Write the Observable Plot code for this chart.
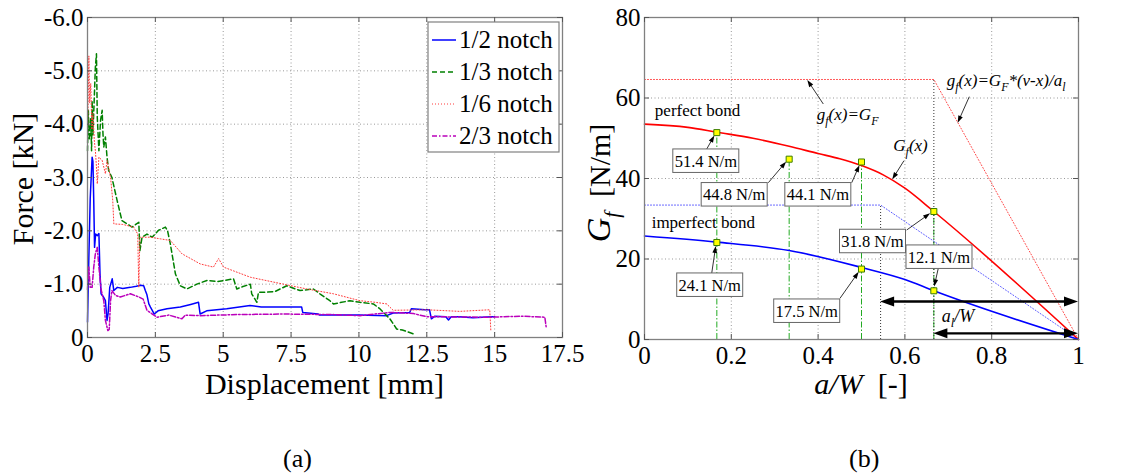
<!DOCTYPE html>
<html><head><meta charset="utf-8">
<script src="https://cdn.jsdelivr.net/npm/d3@7"></script>
<script src="https://cdn.jsdelivr.net/npm/@observablehq/plot@0.6"></script>
<style>
body{margin:0;background:#fff;}
#wrap{position:relative;width:1136px;height:474px;background:#fff;font-family:Liberation Serif,Tinos,Times New Roman,DejaVu Serif,serif;overflow:hidden;}
#a,#b{position:absolute;top:0;}
#a{left:0;width:570px;} #b{left:570px;width:566px;}
.cap{position:absolute;top:446px;font-size:26px;line-height:26px;color:#000;}
svg text{font-family:Liberation Serif,Tinos,Times New Roman,DejaVu Serif,serif;}
</style></head><body>
<div id="wrap"><div id="a"></div><div id="b"></div>
<div class="cap" style="left:283px">(a)</div><div class="cap" style="left:849px">(b)</div></div>
<script>
// ---------------- data: panel (a) ----------------
const seriesNames = ["1/2 notch", "1/3 notch", "1/6 notch", "2/3 notch"];
const notch12 = [[0.0,-0.29],[0.05,-1.5],[0.1,-2.6],[0.17,-3.38],[0.2,-3.3],[0.23,-2.57],[0.26,-1.69],[0.3,-1.94],[0.36,-1.91],[0.42,-1.95],[0.46,-1.2],[0.5,-0.82],[0.6,-0.75],[0.66,-0.69],[0.72,-0.32],[0.76,-0.45],[0.82,-0.94],[0.91,-1.1],[0.97,-0.88],[1.1,-0.94],[1.3,-0.92],[1.58,-0.94],[1.8,-0.96],[1.95,-0.98],[2.07,-0.97],[2.13,-0.88],[2.19,-0.8],[2.26,-0.63],[2.32,-0.57],[2.46,-0.44],[2.6,-0.5],[2.93,-0.54],[3.42,-0.57],[3.8,-0.62],[4.09,-0.66],[4.15,-0.44],[4.39,-0.5],[5.13,-0.54],[5.99,-0.6],[6.4,-0.57],[7.22,-0.57],[7.89,-0.57],[7.93,-0.47],[8.5,-0.44],[8.55,-0.42],[10.0,-0.42],[11.02,-0.41],[11.26,-0.46],[11.87,-0.47],[11.93,-0.54],[12.43,-0.52],[12.6,-0.52],[12.67,-0.35],[12.8,-0.4],[13.2,-0.39],[13.3,-0.33],[13.4,-0.39],[13.7,-0.39],[14.2,-0.37],[14.9,-0.39],[15.0,-0.39]];
const notch13 = [[0.0,-3.5],[0.03,-4.26],[0.07,-3.7],[0.12,-4.1],[0.15,-3.5],[0.17,-4.44],[0.2,-3.8],[0.25,-4.5],[0.29,-5.07],[0.33,-5.32],[0.36,-4.13],[0.42,-3.5],[0.48,-4.07],[0.54,-4.26],[0.57,-3.82],[0.6,-3.57],[0.66,-3.76],[0.72,-3.38],[0.78,-3.13],[0.9,-3.0],[1.09,-2.57],[1.27,-2.19],[1.46,-2.13],[1.64,-2.07],[1.89,-2.16],[1.93,-1.63],[2.01,-1.88],[2.19,-1.94],[2.38,-1.88],[2.62,-2.01],[2.87,-2.07],[2.95,-2.0],[3.05,-1.76],[3.24,-1.19],[3.42,-0.97],[3.66,-0.91],[4.03,-1.0],[4.4,-1.07],[4.8,-1.05],[5.38,-1.1],[5.5,-0.91],[5.7,-0.95],[6.0,-1.0],[6.05,-0.82],[6.24,-0.66],[6.3,-0.85],[6.6,-0.85],[6.9,-0.86],[7.34,-0.97],[7.83,-0.88],[8.32,-0.91],[8.56,-0.82],[8.93,-0.69],[9.06,-0.63],[9.67,-0.69],[10.04,-0.66],[10.53,-0.63],[10.77,-0.54],[11.14,-0.35],[11.39,-0.16],[11.6,-0.14],[12.0,-0.07]];
const notch16 = [[0.0,-3.8],[0.03,-4.6],[0.05,-5.28],[0.08,-4.4],[0.12,-4.76],[0.16,-3.9],[0.2,-4.2],[0.25,-3.7],[0.29,-3.5],[0.33,-3.2],[0.36,-2.88],[0.42,-3.38],[0.54,-3.32],[0.66,-3.07],[0.72,-3.32],[0.85,-3.0],[0.93,-2.57],[0.97,-2.13],[1.3,-2.12],[1.7,-2.07],[1.85,-1.94],[1.89,-0.94],[1.93,-1.88],[2.32,-1.88],[2.68,-1.85],[3.05,-1.82],[3.48,-1.57],[4.15,-1.38],[4.64,-1.32],[4.83,-1.48],[5.01,-1.32],[6.0,-1.13],[7.22,-1.0],[8.08,-0.91],[9.06,-0.82],[10.04,-0.69],[10.6,-0.66],[11.02,-0.63],[11.26,-0.51],[12.49,-0.52],[13.71,-0.49],[14.82,-0.52],[14.86,-0.13]];
const notch23 = [[0.0,-0.9],[0.05,-1.32],[0.1,-0.94],[0.17,-0.94],[0.23,-1.32],[0.29,-1.57],[0.36,-1.69],[0.42,-1.32],[0.5,-0.9],[0.6,-0.69],[0.66,-0.32],[0.75,-0.13],[0.8,-0.15],[0.85,-0.69],[0.9,-0.88],[1.03,-0.79],[1.21,-0.76],[1.58,-0.82],[1.89,-0.76],[2.05,-0.72],[2.19,-0.51],[2.56,-0.38],[3.0,-0.42],[3.48,-0.35],[3.6,-0.42],[4.15,-0.41],[5.5,-0.43],[7.22,-0.44],[9.0,-0.43],[10.04,-0.41],[11.14,-0.47],[12.0,-0.45],[12.49,-0.39],[14.8,-0.38],[16.0,-0.4],[16.85,-0.38],[16.9,-0.19]];
const xTicksA = [0, 2.5, 5, 7.5, 10, 12.5, 15, 17.5];
const yTicksA = [0, -1, -2, -3, -4, -5, -6];

// ---------------- data: panel (b) ----------------
const aWPerfect = [0, 0.1, 0.1667, 0.25, 0.3333, 0.4, 0.45, 0.5, 0.55, 0.6, 0.6667, 1];
const gfPerfect = [53.5, 52.7, 51.5, 50.0, 48.0, 46.2, 44.9, 43.2, 40.9, 37.6, 31.8, 0];
const aWImperfect = [0, 0.1667, 0.3333, 0.5, 0.6, 0.6667, 1];
const gfImperfect = [25.7, 24.2, 22.1, 17.9, 14.9, 12.1, 0];
const cohPerfect = [[0, 64.6], [0.6667, 64.6], [1, 0]];
const cohImperfect = [[0, 33.4], [0.544, 33.4], [1, 0]];
const measX = [1/6, 1/3, 1/2, 2/3, 1/6, 1/2, 2/3];
const measG = [51.4, 44.8, 44.1, 31.8, 24.1, 17.5, 12.1];
const measLabels = ["51.4 N/m", "44.8 N/m", "44.1 N/m", "31.8 N/m", "24.1 N/m", "17.5 N/m", "12.1 N/m"];
const xTicksB = [0, 0.2, 0.4, 0.6, 0.8, 1];
const yTicksB = [0, 20, 40, 60, 80];

// ---------------- styles ----------------
const serif = 'Liberation Serif, Tinos, Times New Roman, DejaVu Serif, serif';
const styleA = {
  "1/2 notch": {stroke: "#0000ff", width: 1.5, dash: null},
  "1/3 notch": {stroke: "#008000", width: 1.5, dash: "5,3"},
  "1/6 notch": {stroke: "#ff3a3a", width: 1, dash: "1,2"},
  "2/3 notch": {stroke: "#bb00bb", width: 1.5, dash: "5,2,1.5,2"}
};
const seriesData = {"1/2 notch": notch12, "1/3 notch": notch13, "1/6 notch": notch16, "2/3 notch": notch23};
const gridStyle = {stroke: "#999", strokeOpacity: 1, strokeWidth: 1, strokeDasharray: "1,2.5"};
const baseStyle = {fontFamily: serif, fontSize: "25px", color: "#000", background: "transparent", overflow: "visible"};

// ---------- helpers ----------
function arrow(g, x1, y1, x2, y2, o = {}) {
  const {w = 0.8, hl = 7, hw = 2.6, color = "#000", both = false} = o;
  const dx = x2 - x1, dy = y2 - y1, L = Math.hypot(dx, dy), ux = dx / L, uy = dy / L;
  const head = (px, py, vx, vy) => {
    const bx = px - vx * hl, by = py - vy * hl;
    g.append("path").attr("d", `M${px},${py}L${bx - vy * hw},${by + vx * hw}L${bx + vy * hw},${by - vx * hw}Z`).attr("fill", color);
  };
  g.append("line")
    .attr("x1", both ? x1 + ux * hl * 0.8 : x1).attr("y1", both ? y1 + uy * hl * 0.8 : y1)
    .attr("x2", x2 - ux * hl * 0.8).attr("y2", y2 - uy * hl * 0.8)
    .attr("stroke", color).attr("stroke-width", w);
  head(x2, y2, ux, uy);
  if (both) head(x1, y1, -ux, -uy);
}
function rich(g, x, y, parts, size, anchor = "start", transform = null) {
  const t = g.append("text").attr("x", x).attr("y", y).attr("font-size", size)
    .attr("text-anchor", anchor).attr("fill", "#000");
  if (transform) t.attr("transform", transform);
  let shift = 0;
  for (const p of parts) {
    const s = t.append("tspan").text(p.t);
    if (p.i) s.attr("font-style", "italic");
    if (p.size) s.attr("font-size", p.size);
    const want = p.sub ? size * 0.3 : 0;
    if (want !== shift) { s.attr("dy", want - shift); shift = want; }
    if (p.sub) s.attr("font-size", size * 0.7);
  }
  return t;
}

// ---------------- panel (a) ----------------
const WA = 570, H = 410, mA = {l: 87, r: 8, t: 17, b: 73};
const fhA = H - mA.t - mA.b, fwA = WA - mA.l - mA.r;
const plotA = Plot.plot({
  width: WA, height: H, marginLeft: mA.l, marginRight: mA.r, marginTop: mA.t, marginBottom: mA.b,
  style: baseStyle,
  x: {domain: [0, 17.5]}, y: {domain: [0, -6]},
  marks: [
    Plot.gridX(xTicksA, gridStyle),
    Plot.gridY(yTicksA, gridStyle),
    ...seriesNames.map(n => Plot.line(seriesData[n], {x: d => d[0], y: d => d[1], stroke: styleA[n].stroke, strokeWidth: styleA[n].width, strokeDasharray: styleA[n].dash})),
    Plot.frame({stroke: "#808080", strokeWidth: 1.3}),
    Plot.ruleX(xTicksA, {x: d => d, insetTop: fhA - 5, stroke: "#555"}),
    Plot.ruleX(xTicksA, {x: d => d, insetBottom: fhA - 5, stroke: "#555"}),
    Plot.ruleY(yTicksA, {y: d => d, insetRight: fwA - 5, stroke: "#555"}),
    Plot.ruleY(yTicksA, {y: d => d, insetLeft: fwA - 5, stroke: "#555"}),
    Plot.axisX(xTicksA, {tickSize: 0, tickPadding: 7, label: null, tickFormat: d => String(d)}),
    Plot.axisY(yTicksA, {tickSize: 0, tickPadding: 4, label: null, tickFormat: d => d === 0 ? "0" : d.toFixed(1)}),
    (index, scales, values, dim) => {
      const g = d3.create("svg:g").attr("text-anchor", "start");
      // legend
      g.append("rect").attr("x", 428).attr("y", 22).attr("width", 131).attr("height", 130)
        .attr("fill", "#fff").attr("stroke", "#808080").attr("stroke-width", 1.2);
      seriesNames.forEach((n, k) => {
        const yb = 48 + 32 * k, st = styleA[n];
        g.append("line").attr("x1", 432).attr("x2", 456).attr("y1", yb - 8).attr("y2", yb - 8)
          .attr("stroke", st.stroke).attr("stroke-width", st.width).attr("stroke-dasharray", st.dash);
        g.append("text").attr("x", 459).attr("y", yb).attr("font-size", 25).attr("fill", "#000").text(n);
      });
      // axis titles
      const cx = (dim.marginLeft + dim.width - dim.marginRight) / 2;
      const cy = (dim.marginTop + dim.height - dim.marginBottom) / 2;
      g.append("text").attr("x", cx).attr("y", 394).attr("text-anchor", "middle").attr("font-size", 30).attr("fill", "#000").text("Displacement [mm]");
      g.append("text").attr("transform", `translate(33,${cy + 2}) rotate(-90)`).attr("text-anchor", "middle").attr("font-size", 30).attr("fill", "#000").text("Force [kN]");
      return g.node();
    }
  ]
});
document.getElementById("a").append(plotA);

// ---------------- panel (b) ----------------
const WB = 566, mB = {l: 74, r: 58, t: 17, b: 71};
const fhB = H - mB.t - mB.b, fwB = WB - mB.l - mB.r;
const perfectRows = aWPerfect.map((x, i) => ({x, g: gfPerfect[i]}));
const imperfectRows = aWImperfect.map((x, i) => ({x, g: gfImperfect[i]}));
const measRows = measX.map((x, i) => ({x, g: measG[i], label: measLabels[i]}));
const stems = Array.from(d3.rollup(measRows, v => d3.max(v, d => d.g), d => d.x), ([x, top]) => ({x, top}));
const kinks = [{x: cohImperfect[1][0], top: cohImperfect[1][1]}, {x: cohPerfect[1][0], top: cohPerfect[1][1]}];

// annotation layout (data units of panel b), same order as measLabels
const boxAt = [[0.1424, 44.3], [0.2078, 35.95], [0.4005, 35.95], [0.5265, 24.35], [0.1514, 13.49], [0.3749, 7.03], [0.6797, 20.45]];
const arrowFrom = [[0.1445, 47.2], [0.2864, 38.83], [0.4786, 38.83], [0.6053, 27.08], [0.156, 16.32], [0.4516, 10.11], [0.6781, 17.57]];

const plotB = Plot.plot({
  width: WB, height: H, marginLeft: mB.l, marginRight: mB.r, marginTop: mB.t, marginBottom: mB.b,
  style: baseStyle,
  x: {domain: [0, 1]}, y: {domain: [0, 80]},
  marks: [
    Plot.gridX(xTicksB, gridStyle),
    Plot.gridY(yTicksB, gridStyle),
    Plot.ruleX(stems, {x: "x", y1: 0, y2: "top", stroke: "#22aa22", strokeWidth: 1, strokeDasharray: "6,2,1.5,2"}),
    Plot.ruleX(kinks, {x: "x", y1: 0, y2: "top", stroke: "#333", strokeWidth: 1, strokeDasharray: "1,2"}),
    Plot.line(cohPerfect, {x: d => d[0], y: d => d[1], stroke: "#ff4a4a", strokeWidth: 1, strokeDasharray: "1,2"}),
    Plot.line(cohImperfect, {x: d => d[0], y: d => d[1], stroke: "#5a5aff", strokeWidth: 1, strokeDasharray: "1,2"}),
    Plot.line(perfectRows, {x: "x", y: "g", stroke: "#ff0000", strokeWidth: 1.6, curve: "monotone-x"}),
    Plot.line(imperfectRows, {x: "x", y: "g", stroke: "#0000ff", strokeWidth: 1.6, curve: "monotone-x"}),
    Plot.frame({stroke: "#808080", strokeWidth: 1.3}),
    Plot.ruleX(xTicksB, {x: d => d, insetTop: fhB - 5, stroke: "#555"}),
    Plot.ruleX(xTicksB, {x: d => d, insetBottom: fhB - 5, stroke: "#555"}),
    Plot.ruleY(yTicksB, {y: d => d, insetRight: fwB - 5, stroke: "#555"}),
    Plot.ruleY(yTicksB, {y: d => d, insetLeft: fwB - 5, stroke: "#555"}),
    Plot.axisX(xTicksB, {tickSize: 0, tickPadding: 7, label: null, tickFormat: d => String(d)}),
    Plot.axisY(yTicksB, {tickSize: 0, tickPadding: 4, label: null, tickFormat: d => String(d)}),
    (index, scales, values, dim) => {
      const X = scales.x, Y = scales.y;
      const g = d3.create("svg:g").attr("text-anchor", "start");
      // double arrows
      arrow(g, X(cohImperfect[1][0]), Y(9.3), X(1), Y(9.3), {w: 2.4, hl: 14, hw: 5, both: true});
      arrow(g, X(cohPerfect[1][0]), Y(1.4), X(1), Y(1.4), {w: 2.4, hl: 14, hw: 5, both: true});
      // label arrows + boxes
      measRows.forEach((r, i) => {
        const px = X(r.x), py = Y(r.g);
        const sx = X(arrowFrom[i][0]), sy = Y(arrowFrom[i][1]);
        const L = Math.hypot(sx - px, sy - py);
        arrow(g, sx, sy, px + (sx - px) / L * 4, py + (sy - py) / L * 4, {w: 0.8, hl: 7, hw: 2.4});
      });
      measRows.forEach((r, i) => {
        const cx = X(boxAt[i][0]), cy = Y(boxAt[i][1]);
        g.append("rect").attr("x", cx - 33).attr("y", cy - 11.75).attr("width", 66).attr("height", 23.5)
          .attr("fill", "#fff").attr("stroke", "#666").attr("stroke-width", 1);
        g.append("text").attr("x", cx).attr("y", cy + 6).attr("text-anchor", "middle")
          .attr("font-size", 16.5).attr("fill", "#000").text(r.label);
      });
      // text annotations
      g.append("text").attr("x", X(0.025)).attr("y", Y(55.4)).attr("font-size", 17).attr("fill", "#000").text("perfect bond");
      g.append("text").attr("x", X(0.0177)).attr("y", Y(27.65)).attr("font-size", 17).attr("fill", "#000").text("imperfect bond");
      rich(g, X(0.398), Y(54.4), [{t: "g", i: 1}, {t: "f", i: 1, sub: 1}, {t: "(x)=G", i: 1}, {t: "F", i: 1, sub: 1}], 17);
      arrow(g, X(0.4131), Y(58.39), X(0.3763), Y(64.35), {w: 0.8, hl: 7, hw: 2.4});
      rich(g, X(0.5744), Y(46.8), [{t: "G", i: 1}, {t: "f", i: 1, sub: 1}, {t: "(x)", i: 1}], 17);
      arrow(g, X(0.599), Y(44.3), X(0.5721), Y(39.68), {w: 0.8, hl: 7, hw: 2.4});
      rich(g, X(0.6975), Y(62.86), [{t: "g", i: 1}, {t: "f", i: 1, sub: 1}, {t: "(x)=G", i: 1}, {t: "F", i: 1, sub: 1}, {t: "*(v-x)/a", i: 1}, {t: "l", i: 1, sub: 1}], 17);
      arrow(g, X(0.7495), Y(60.2), X(0.7228), Y(53.74), {w: 0.8, hl: 7, hw: 2.4});
      rich(g, X(0.686), Y(4.3), [{t: "a", i: 1}, {t: "l", i: 1, sub: 1}, {t: "/W", i: 1}], 18);
      // axis titles
      const cx = (dim.marginLeft + dim.width - dim.marginRight) / 2;
      const cy = (dim.marginTop + dim.height - dim.marginBottom) / 2;
      rich(g, cx, 394, [{t: "a/W", i: 1}, {t: "  [-]"}], 30, "middle");
      rich(g, 0, 0, [{t: "G", i: 1, size: 34}, {t: "f", i: 1, sub: 1}, {t: "  [N/m]"}], 30, "middle", `translate(40,${cy + 5}) rotate(-90)`);
      return g.node();
    },
    Plot.dot(measRows, {x: "x", y: "g", symbol: "square", r: 3.4, fill: "#ffff00", stroke: "#3a7d00", strokeWidth: 1})
  ]
});
document.getElementById("b").append(plotB);
</script></body></html>
